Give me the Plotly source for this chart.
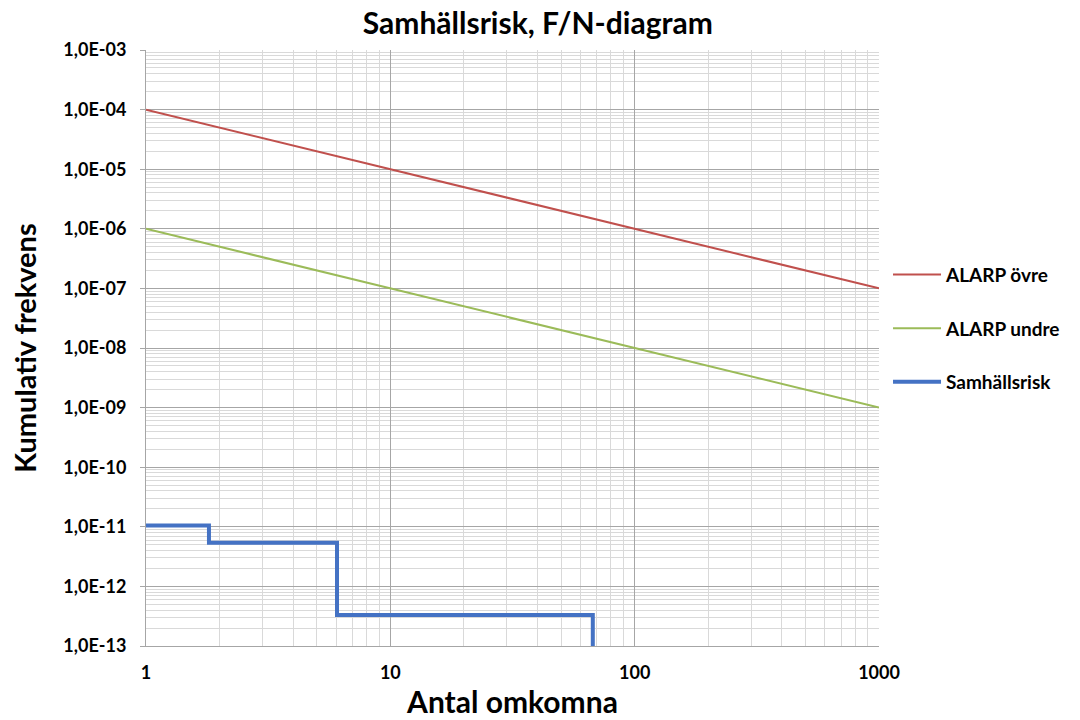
import plotly.graph_objects as go

# Data
alarp_n = [1, 1000]
alarp_upper = [1e-4, 1e-7]
alarp_lower = [1e-6, 1e-9]

risk_n = [1, 1.81, 1.81, 6.05, 6.05, 67.4, 67.4]
risk_f = [1.05e-11, 1.05e-11, 5.4e-12, 5.4e-12, 3.3e-13, 3.3e-13, 1e-14]

y_exps = list(range(-13, -2))
y_ticktext = ["1,0E-%02d" % (-e) for e in y_exps]
x_tickvals = [1, 10, 100, 1000]
x_ticktext = ["1", "10", "100", "1000"]

FONT = "Lato"
major_grid = "#a6a6a6"
minor_grid = "#d9d9d9"

fig = go.Figure()
fig.add_trace(go.Scatter(x=alarp_n, y=alarp_upper, mode="lines", name="ALARP övre",
                         line=dict(color="#C0504D", width=2), legendgroup="a"))
fig.add_trace(go.Scatter(x=alarp_n, y=alarp_lower, mode="lines", name="ALARP undre",
                         line=dict(color="#9BBB59", width=2), legendgroup="b"))
fig.add_trace(go.Scatter(x=risk_n, y=risk_f, mode="lines", name="Samhällsrisk",
                         line=dict(color="#4472C4", width=4), legendgroup="c"))

minor_x = [m * 10 ** d for d in range(0, 3) for m in range(2, 10)]
minor_y = [m * 10.0 ** d for d in range(-13, -3) for m in range(2, 10)]

fig.update_xaxes(type="log", range=[0, 3], automargin=False,
                 tickvals=x_tickvals, ticktext=x_ticktext,
                 showgrid=True, gridcolor=major_grid, gridwidth=1,
                 minor=dict(tickvals=minor_x, showgrid=True, gridcolor=minor_grid, gridwidth=1),
                 showline=True, linecolor=major_grid, linewidth=1,
                 ticks="", zeroline=False, ticklabelstandoff=10,
                 tickfont=dict(family=FONT, size=18, color="black", weight="bold"),
                 title=dict(text="Antal omkomna", font=dict(family=FONT, size=30, color="black", weight="bold"),
                            standoff=10))
fig.update_yaxes(type="log", range=[-13, -3], automargin=False,
                 tickvals=[10.0 ** e for e in y_exps], ticktext=y_ticktext,
                 showgrid=True, gridcolor=major_grid, gridwidth=1,
                 minor=dict(tickvals=minor_y, showgrid=True, gridcolor=minor_grid, gridwidth=1),
                 showline=True, linecolor=major_grid, linewidth=1,
                 ticks="outside", ticklen=5, tickcolor=major_grid, zeroline=False,
                 ticklabelstandoff=10,
                 tickfont=dict(family=FONT, size=18, color="black", weight="bold"),
                 title=dict(text="Kumulativ frekvens", font=dict(family=FONT, size=29, color="black", weight="bold"),
                            standoff=18))

fig.update_layout(
    width=1080, height=720,
    margin=dict(l=146, r=201, t=50, b=74),
    paper_bgcolor="white", plot_bgcolor="white",
    title=dict(text="Samhällsrisk, F/N-diagram", x=0.498, xanchor="center", y=0.968, yanchor="middle",
               font=dict(family=FONT, size=30, color="black", weight="bold")),
    legend=dict(x=1.0123, xanchor="left", y=0.655, yanchor="top", itemwidth=48,
                font=dict(family=FONT, size=19, color="black", weight="bold"),
                tracegroupgap=26, bgcolor="rgba(0,0,0,0)"),
    showlegend=True,
)

fig.write_html("out.html")
